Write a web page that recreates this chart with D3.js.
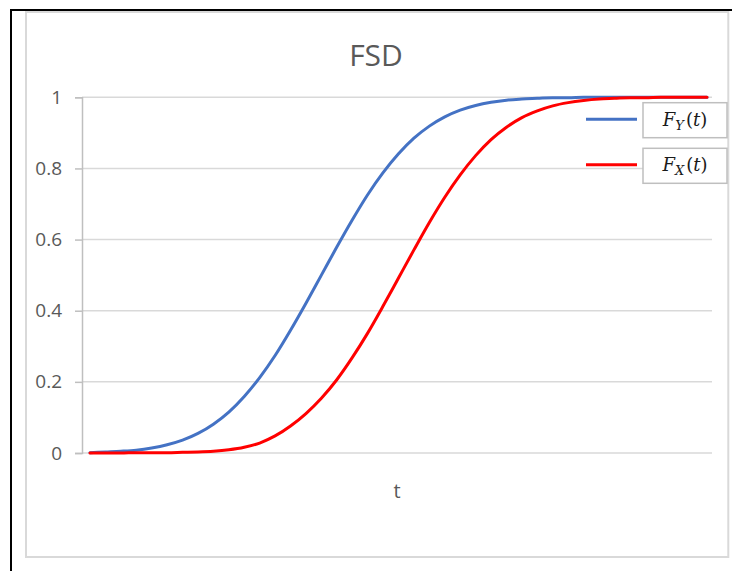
<!DOCTYPE html>
<html>
<head>
<meta charset="utf-8">
<script src="https://cdn.jsdelivr.net/npm/d3@7/dist/d3.min.js"></script>
<style>
  html, body { margin: 0; padding: 0; background: #fff; }
  svg { display: block; }
</style>
</head>
<body>
<svg id="chart" width="732" height="571"></svg>
<script>
// t grid (category positions along the horizontal axis)
const tValues = d3.range(0, 41);

// Cumulative distribution F_Y(t)
const fY = [0.001, 0.003, 0.005, 0.008, 0.014, 0.023, 0.036, 0.055, 0.081, 0.115,
            0.159, 0.212, 0.274, 0.345, 0.421, 0.500, 0.579, 0.655, 0.726, 0.788,
            0.841, 0.885, 0.919, 0.945, 0.964, 0.977, 0.986, 0.992, 0.995, 0.997,
            0.999, 0.999, 1.000, 1.000, 1.000, 1.000, 1.000, 1.000, 1.000, 1.000, 1.000];

// Cumulative distribution F_X(t)
const fX = [0.000, 0.000, 0.000, 0.001, 0.001, 0.001, 0.002, 0.003, 0.005, 0.009,
            0.016, 0.028, 0.048, 0.076, 0.111, 0.154, 0.206, 0.268, 0.337, 0.413,
            0.492, 0.571, 0.648, 0.719, 0.782, 0.836, 0.881, 0.916, 0.943, 0.962,
            0.976, 0.985, 0.991, 0.995, 0.997, 0.999, 0.999, 1.000, 1.000, 1.000, 1.000];

const yTicks = [0, 0.2, 0.4, 0.6, 0.8, 1];
const yTickLabels = ["0", "0.2", "0.4", "0.6", "0.8", "1"];

const seriesNames = ["Y", "X"];
const seriesColors = ["#4472C4", "#FF0000"];

const svg = d3.select("#chart");
const textColor = "#595959";
const font = "'Open Sans', 'Liberation Sans', sans-serif";

// outer frame
svg.append("rect").attr("x", 11).attr("y", 10).attr("width", 760).attr("height", 600)
  .attr("fill", "none").attr("stroke", "#000").attr("stroke-width", 2);
svg.append("rect").attr("x", 26).attr("y", 12).attr("width", 702.3).attr("height", 545)
  .attr("fill", "#fff").attr("stroke", "#d9d9d9").attr("stroke-width", 2);

const plot = { left: 82, right: 712, top: 97.3, bottom: 453 };

const x = d3.scaleLinear().domain([0, 40]).range([90, 707]);
const y = d3.scaleLinear().domain([0, 1]).range([plot.bottom, plot.top]);

// gridlines
svg.append("g").selectAll("line").data(yTicks).join("line")
  .attr("x1", plot.left).attr("x2", plot.right)
  .attr("y1", d => y(d)).attr("y2", d => y(d))
  .attr("stroke", "#d9d9d9").attr("stroke-width", 1.5);

// y axis
const yAxis = d3.axisLeft(y).tickValues(yTicks)
  .tickFormat((d, i) => yTickLabels[i]).tickSize(7).tickPadding(13);
const gy = svg.append("g").attr("transform", `translate(${plot.left},0)`).call(yAxis);
gy.select(".domain").attr("stroke", "#bfbfbf").attr("stroke-width", 1.5);
gy.selectAll(".tick line").attr("stroke", "#bfbfbf").attr("stroke-width", 1.5);
gy.selectAll(".tick text").attr("fill", textColor)
  .style("font-family", font).style("font-size", "19px");

// curves
const line = d3.line().x((d, i) => x(tValues[i])).y(d => y(d)).curve(d3.curveMonotoneX);
[fY, fX].forEach((vals, k) => {
  svg.append("path").datum(vals).attr("d", line)
    .attr("fill", "none").attr("stroke", seriesColors[k])
    .attr("stroke-width", 3).attr("stroke-linecap", "round");
});

// title
svg.append("text").attr("x", 376).attr("y", 66).attr("text-anchor", "middle")
  .attr("fill", textColor).style("font-family", font).style("font-size", "30px")
  .text("FSD");

// x axis title
svg.append("text").attr("x", 397).attr("y", 498).attr("text-anchor", "middle")
  .attr("fill", textColor).style("font-family", font).style("font-size", "20px")
  .text("t");

// legend
const legendTop = [102.7, 148.3];
const legend = svg.append("g");
seriesNames.forEach((name, k) => {
  const g = legend.append("g").attr("transform", `translate(0,${legendTop[k]})`);
  g.append("line").attr("x1", 586).attr("x2", 637).attr("y1", 16.5).attr("y2", 16.5)
    .attr("stroke", seriesColors[k]).attr("stroke-width", 3);
  g.append("rect").attr("x", 643).attr("y", 0).attr("width", 84).attr("height", 35)
    .attr("fill", "#fff").attr("stroke", "#bfbfbf").attr("stroke-width", 1.5);
  const t = g.append("text").attr("x", 685).attr("y", 23).attr("text-anchor", "middle")
    .attr("fill", "#1a1a1a").style("font-family", "'DejaVu Serif', 'Liberation Serif', serif")
    .style("font-size", "18px");
  t.append("tspan").style("font-style", "italic").text("F");
  t.append("tspan").style("font-style", "italic").style("font-size", "13px")
    .attr("dy", 4).text(name);
  t.append("tspan").attr("dy", -4).attr("dx", 2).text("(");
  t.append("tspan").style("font-style", "italic").text("t");
  t.append("tspan").text(")");
});
</script>
</body>
</html>
